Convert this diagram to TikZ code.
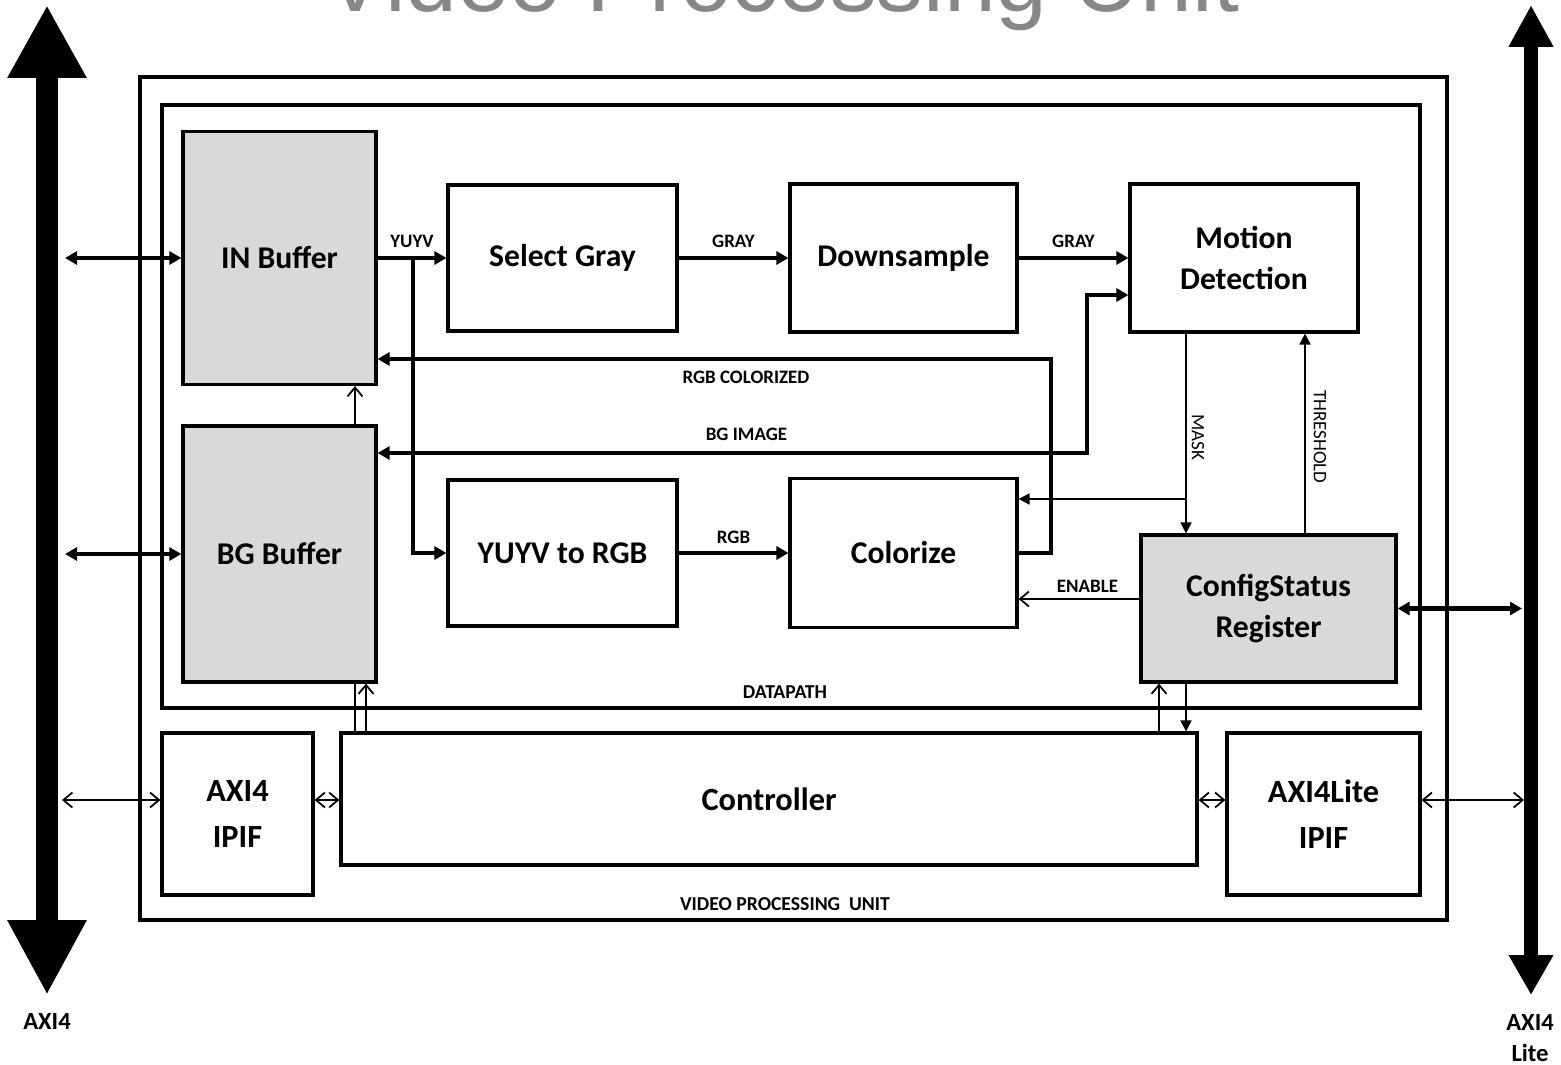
\documentclass[tikz,border=0pt]{standalone}
\usepackage{fontspec}
\setmainfont{Carlito}
\newfontfamily\titlefont{Liberation Sans}
\usetikzlibrary{arrows.meta,positioning}
\definecolor{boxgray}{RGB}{217,217,217}
\definecolor{titlegray}{RGB}{135,135,135}

\begin{document}
\begin{tikzpicture}[
x=0.1mm, y=-0.1mm,
every node/.style={font=\bfseries, text centered},
block/.style={rectangle, draw=black, line width=0.9pt, inner sep=0pt, align=center, font=\fontsize{9}{11.7}\selectfont\bfseries},
shaded/.style={block, fill=boxgray},
ipif/.style={block, font=\fontsize{9.2}{13}\selectfont\bfseries},
frame/.style={rectangle, draw=black, line width=0.9pt, inner sep=0pt},
tag/.style={font=\fontsize{5.4}{6}\selectfont\bfseries, inner sep=0pt},
thintag/.style={font=\fontsize{5.4}{6}\selectfont, inner sep=0pt},
buslabel/.style={font=\fontsize{7}{8.8}\selectfont\bfseries, align=center},
dataflow/.style={-{Triangle[length=1.2mm,width=1.3mm]}, line width=1.2pt},
databoth/.style={{Triangle[length=1.2mm,width=1.3mm]}-{Triangle[length=1.2mm,width=1.3mm]}, line width=1.2pt},
sigfill/.style={-{Triangle[length=1.1mm,width=1.1mm]}, line width=0.5pt},
sigopen/.style={-{Straight Barb[length=0.9mm,width=1.5mm]}, line width=0.5pt},
sigboth/.style={{Straight Barb[length=0.9mm,width=1.5mm]}-{Straight Barb[length=0.9mm,width=1.5mm]}, line width=0.5pt},
sigline/.style={line width=0.5pt}
]

\useasboundingbox (0,0) rectangle (1561,1065);

% Title (cut at the top edge)

\node[font=\titlefont\fontsize{26.5}{30}\selectfont, text=titlegray, anchor=base] (title) at (782,12) {Video Processing Unit};

% Containers

\node[frame, minimum width=130.7mm, minimum height=84.3mm] (vpu) at (793.5,498.5) {};
\node[frame, minimum width=125.8mm, minimum height=60.3mm] (datapath) at (791,406.5) {};

\node[tag, font=\fontsize{5.6}{6}\selectfont\bfseries] (dplbl) at (785,692) {DATAPATH};
\node[tag, font=\fontsize{5.6}{6}\selectfont\bfseries] (vpulbl) at (785,904) {VIDEO PROCESSING\ \ UNIT};

% Buffers

\node[shaded, minimum width=19.3mm, minimum height=25.3mm] (inbuf) at (279.5,258) {IN Buffer};
\node[shaded, minimum width=19.3mm, minimum height=25.6mm] (bgbuf) at (279.5,554) {BG Buffer};

% Processing blocks

\node[block, minimum width=22.9mm, minimum height=14.6mm] (selgray) at (562.5,258) {Select Gray};
\node[block, minimum width=22.7mm, minimum height=14.8mm] (downs) at (903.5,258) {Downsample};
\node[block, minimum width=22.8mm, minimum height=14.8mm] (motion) at (1244,258) {Motion\\Detection};
\node[block, minimum width=22.9mm, minimum height=14.6mm] (yuv2rgb) at (562.5,553) {YUYV to RGB};
\node[block, minimum width=22.7mm, minimum height=14.9mm] (colorize) at (903.5,553) {Colorize};
\node[shaded, minimum width=25.5mm, minimum height=14.7mm] (cfgreg) at (1268.5,608.5) {ConfigStatus\\Register};

% Control and bus interfaces

\node[ipif, minimum width=15.1mm, minimum height=16.2mm] (axiipif) at (237.5,814) {AXI4\\IPIF};
\node[ipif, minimum width=85.6mm, minimum height=13.2mm] (ctrl) at (769,799) {Controller};
\node[ipif, minimum width=19.3mm, minimum height=16.2mm] (liteipif) at (1323.5,814) {AXI4Lite\\IPIF};

% Buses

\coordinate (axitop) at (47,5);
\coordinate (axibot) at (47,995);
\draw[line width=2.2mm, {Triangle[length=7.3mm,width=7.4mm]}-{Triangle[length=7.5mm,width=7.4mm]}] (axitop) -- (axibot);
\node[buslabel] (axilbl) at (47,1022) {AXI4};

\coordinate (litetop) at (1531,5);
\coordinate (litebot) at (1531,995);
\draw[line width=1.4mm, {Triangle[length=4.2mm,width=4.2mm]}-{Triangle[length=4mm,width=4.2mm]}] (litetop) -- (litebot);
\node[buslabel] (litelbl) at (1530,1038) {AXI4\\Lite};

% Bus ports

\coordinate (axiport) at (65,0);
\coordinate (liteport) at (1522,0);
\coordinate (axithin) at (62,800);
\coordinate (litethin) at (1524,800);
\coordinate (busy) at (0,800);

\draw[databoth] (inbuf.west -| axiport) -- (inbuf.west);
\draw[databoth] (bgbuf.west -| axiport) -- (bgbuf.west);
\draw[databoth] (cfgreg.east) -- (cfgreg.east -| liteport);
\draw[sigboth] (axithin) -- (axithin -| axiipif.west);
\draw[sigboth] (axiipif.east |- busy) -- (ctrl.west |- busy);
\draw[sigboth] (ctrl.east |- busy) -- (liteipif.west |- busy);
\draw[sigboth] (liteipif.east |- busy) -- (litethin);

% Data path

\draw[dataflow] (inbuf.east) -- (selgray.west) node[tag, midway, above=2.3pt] {YUYV};
\coordinate (yuyvsplit) at (413,258);
\draw[dataflow] (yuyvsplit) |- (yuv2rgb.west);
\draw[dataflow] (selgray) -- (downs) node[tag, midway, above=2.3pt] {GRAY};
\draw[dataflow] (downs) -- (motion) node[tag, midway, above=2.3pt] {GRAY};
\draw[dataflow] (yuv2rgb) -- (colorize) node[tag, midway, above=2pt] {RGB};

\coordinate (colturn) at (1051,359);
\draw[dataflow] (colorize.east) -| (colturn) -- (colturn -| inbuf.east) node[tag, pos=0.453, below=2.8pt] {RGB COLORIZED};

\coordinate (bgturn) at (1087,453);
\coordinate (mdturn) at (1087,295);
\draw[databoth] (bgturn -| bgbuf.east) -- (bgturn) node[tag, pos=0.52, above=2.8pt] {BG IMAGE} -- (mdturn) -- (mdturn -| motion.west);

% Control signals

\coordinate (maskx) at (1186,499);
\coordinate (thrx) at (1305,0);
\coordinate (enabley) at (0,599);
\draw[sigfill] (maskx |- motion.south) -- (maskx |- cfgreg.north);
\draw[sigfill] (maskx) -- (maskx -| colorize.east);
\draw[sigfill] (thrx |- cfgreg.north) -- (thrx |- motion.south);
\node[thintag, rotate=-90] (masklbl) at (1198,437) {MASK};
\node[thintag, rotate=-90] (thrlbl) at (1320,437) {THRESHOLD};
\draw[sigopen] (cfgreg.west |- enabley) -- (colorize.east |- enabley) node[tag, pos=0.43, above=1.7pt] {ENABLE};

% Controller links

\coordinate (bufx) at (355,0);
\coordinate (bufxb) at (366,0);
\coordinate (regx) at (1159,0);
\coordinate (regxb) at (1186,0);
\draw[sigopen] (bufx |- bgbuf.north) -- (bufx |- inbuf.south);
\draw[sigline] (bufx |- ctrl.north) -- (bufx |- bgbuf.south);
\draw[sigopen] (bufxb |- ctrl.north) -- (bufxb |- bgbuf.south);
\draw[sigopen] (regx |- ctrl.north) -- (regx |- cfgreg.south);
\draw[sigfill] (regxb |- cfgreg.south) -- (regxb |- ctrl.north);

\end{tikzpicture}
\end{document}
